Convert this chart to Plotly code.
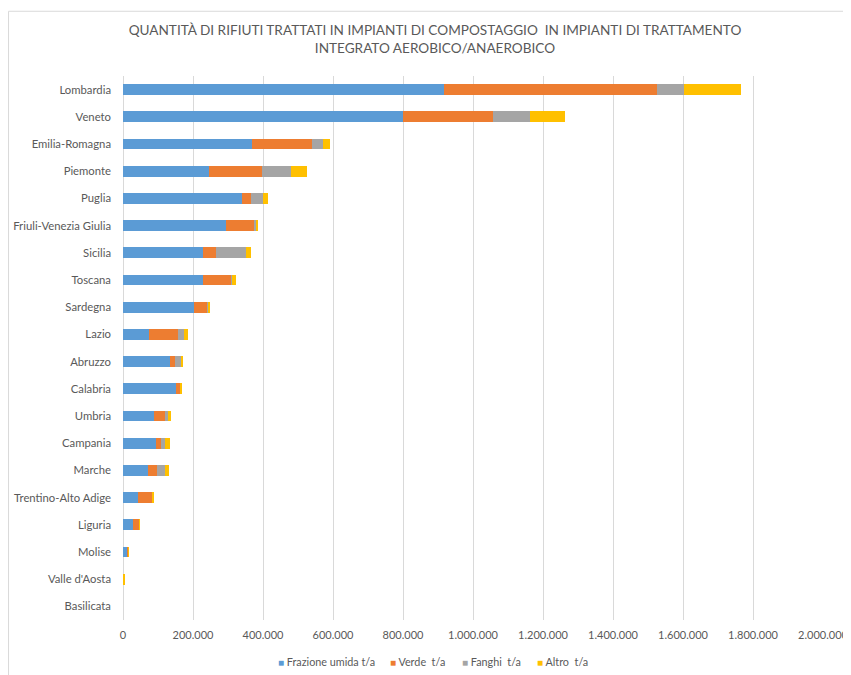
import plotly.graph_objects as go

regions = ["Lombardia", "Veneto", "Emilia-Romagna", "Piemonte", "Puglia",
           "Friuli-Venezia Giulia", "Sicilia", "Toscana", "Sardegna", "Lazio",
           "Abruzzo", "Calabria", "Umbria", "Campania", "Marche",
           "Trentino-Alto Adige", "Liguria", "Molise", "Valle d'Aosta", "Basilicata"]

frazione_umida = [918000, 800000, 369000, 247000, 339000, 293000, 228000, 228000, 203000, 73000,
                  134000, 150000, 89000, 93000, 72000, 44000, 29000, 13000, 0, 0]
verde = [609000, 258000, 171000, 150000, 28000, 84000, 39000, 81000, 38000, 84000,
         14000, 14000, 31000, 15000, 25000, 39000, 17000, 2000, 0, 0]
fanghi = [76000, 104000, 32000, 84000, 34000, 4000, 84000, 2000, 1000, 17000,
          19000, 0, 9000, 11000, 24000, 0, 0, 0, 0, 0]
altro = [163000, 102000, 20000, 46000, 12000, 6000, 15000, 13000, 6000, 11000,
         2000, 3000, 8000, 14000, 9000, 3000, 1000, 1000, 6000, 0]

series_names = ["Frazione umida t/a", "Verde  t/a", "Fanghi  t/a", "Altro  t/a"]
series_values = [frazione_umida, verde, fanghi, altro]
series_colors = ["#5B9BD5", "#ED7D31", "#A5A5A5", "#FFC000"]

tick_vals = list(range(0, 2000001, 200000))

fig = go.Figure()
for name, vals, color in zip(series_names, series_values, series_colors):
    fig.add_trace(go.Bar(
        y=regions, x=vals, name=name, orientation="h",
        marker=dict(color=color, line=dict(width=0)),
        showlegend=False,
    ))

# compact legend row (Excel-style), built from the series names/colours
legend_x_px = [276, 388, 460, 535]
annotations = []
for name, color, px in zip(series_names, series_colors, legend_x_px):
    annotations.append(dict(
        xref="paper", yref="paper",
        x=(px - 123) / 700, y=-0.077, xanchor="left", yanchor="middle",
        text=f"<span style='color:{color};font-size:10px'>■</span> {name}",
        showarrow=False, font=dict(size=10.8, color="#595959"),
    ))

font_family = "Lato, 'Open Sans', sans-serif"
fig.update_layout(
    barmode="stack",
    bargap=0.6,
    width=843, height=667,
    margin=dict(l=115, r=28, t=68, b=55, autoexpand=False),
    paper_bgcolor="white", plot_bgcolor="white",
    separators=",.",
    font=dict(family=font_family, color="#595959", size=12),
    showlegend=False,
    title=dict(
        text="QUANTITÀ DI RIFIUTI TRATTATI IN IMPIANTI DI COMPOSTAGGIO  IN IMPIANTI DI TRATTAMENTO<br>INTEGRATO AEROBICO/ANAEROBICO",
        x=0.5065, xanchor="center", y=0.9595, yanchor="top",
        font=dict(size=13.6, color="#595959", family=font_family),
    ),
    xaxis=dict(
        range=[0, 2000000], tickvals=tick_vals, tickformat=",d",
        showgrid=True, gridcolor="#D9D9D9", gridwidth=1,
        zeroline=True, zerolinecolor="#D9D9D9", zerolinewidth=1,
        tickfont=dict(size=11, color="#595959"),
        ticklabelstandoff=7, automargin=False,
    ),
    yaxis=dict(
        autorange="reversed",
        tickfont=dict(size=11.3, color="#595959"),
        ticks="", ticklabelstandoff=11,
        showgrid=False, showline=False, automargin=False,
    ),
    annotations=annotations,
    shapes=[
        dict(type="rect", xref="paper", yref="paper",
             x0=-0.1635, x1=1.06, y0=-0.12, y1=1.119,
             line=dict(color="#D9D9D9", width=1), fillcolor="rgba(0,0,0,0)", layer="below"),
    ],
)

fig.write_html("out.html")
